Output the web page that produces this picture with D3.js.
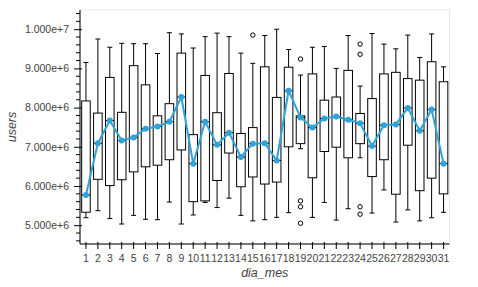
<!DOCTYPE html>
<html><head><meta charset="utf-8">
<script src="https://cdn.jsdelivr.net/npm/d3@7"></script>
<style>body{margin:0;background:#fff}svg{display:block}</style>
</head><body>
<script>
const days = d3.range(1, 32).map(String);
const whiskerLow  = [5.19,5.37,5.17,5.03,5.25,5.15,5.14,5.59,5.03,5.26,5.58,5.45,5.69,5.25,5.11,5.14,5.20,5.32,6.95,5.20,5.58,5.13,5.42,6.72,5.31,5.90,5.08,5.39,5.11,5.19,5.33];
const q1          = [5.33,6.17,6.01,6.16,6.36,6.49,6.53,6.67,6.92,5.60,5.62,6.14,6.84,5.98,6.23,6.05,6.10,7.00,7.08,6.21,6.88,6.99,6.72,7.08,6.24,6.67,5.79,7.04,5.88,6.20,5.80];
const median      = [5.77,7.09,7.67,7.16,7.24,7.46,7.52,7.64,8.27,6.57,7.64,7.05,7.36,6.74,7.08,7.09,6.65,8.43,7.75,7.49,7.72,7.77,7.69,7.60,7.02,7.55,7.57,7.99,7.41,7.95,6.57];
const q3          = [8.17,7.86,8.77,7.88,9.07,8.58,7.79,8.10,9.39,7.31,8.82,7.87,8.87,7.34,7.49,9.04,8.26,9.03,7.79,8.86,8.19,8.27,8.95,7.85,8.23,8.86,8.90,8.74,8.70,9.17,8.66];
const whiskerHigh = [9.15,9.75,9.54,9.64,9.63,9.63,9.38,9.91,9.88,9.52,9.81,9.90,9.81,9.39,9.13,9.84,10.00,9.48,8.83,9.54,9.56,9.00,9.84,8.55,9.89,9.62,9.50,9.85,9.28,9.88,9.04];
const outlierDays   = ["15","19","19","19","19","24","24","24","24"];
const outlierValues = [9.85,9.24,5.62,5.47,5.05,9.62,9.36,5.47,5.28];
const yTicks = [5e6, 6e6, 7e6, 8e6, 9e6, 1e7];
const M = 1e6;

const W = 478, H = 287;
const pL = 80, pR = 449.5, pT = 10, pB = 244;
const svg = d3.select("body").append("svg").attr("width", W).attr("height", H);

const x = d3.scaleBand().domain(days).range([pL, pR]).padding(0);
const y = d3.scaleLinear().domain([4.52e6, 10.49e6]).range([pB, pT]);
const cx = d => x(d) + x.bandwidth() / 2;

// frame outline
svg.append("rect").attr("x", pL).attr("y", pT).attr("width", pR - pL).attr("height", pB - pT)
  .attr("fill", "none").attr("stroke", "#e5e5e5").attr("stroke-width", 1);

const bw = x.bandwidth() * 0.72, cw = x.bandwidth() * 0.42;
const g = svg.append("g");
days.forEach((d, i) => {
  const c = cx(d);
  const s = g.append("g").attr("stroke", "#000").attr("stroke-width", 1).attr("fill", "none");
  s.append("line").attr("x1", c).attr("x2", c).attr("y1", y(whiskerHigh[i]*M)).attr("y2", y(q3[i]*M));
  s.append("line").attr("x1", c).attr("x2", c).attr("y1", y(q1[i]*M)).attr("y2", y(whiskerLow[i]*M));
  s.append("line").attr("x1", c - cw/2).attr("x2", c + cw/2).attr("y1", y(whiskerHigh[i]*M)).attr("y2", y(whiskerHigh[i]*M));
  s.append("line").attr("x1", c - cw/2).attr("x2", c + cw/2).attr("y1", y(whiskerLow[i]*M)).attr("y2", y(whiskerLow[i]*M));
  s.append("rect").attr("x", c - bw/2).attr("width", bw).attr("y", y(q3[i]*M)).attr("height", y(q1[i]*M) - y(q3[i]*M)).attr("fill", "#fff");
  s.append("line").attr("x1", c - bw/2).attr("x2", c + bw/2).attr("y1", y(median[i]*M)).attr("y2", y(median[i]*M));
});
outlierDays.forEach((d, i) => {
  g.append("circle").attr("cx", cx(d)).attr("cy", y(outlierValues[i]*M)).attr("r", 2.2)
    .attr("fill", "#fff").attr("stroke", "#000").attr("stroke-width", 1);
});

// median line
const blue = "#30a2da";
svg.append("path").datum(days).attr("fill", "none").attr("stroke", blue).attr("stroke-width", 2)
  .attr("d", d3.line().x(d => cx(d)).y((d, i) => y(median[i]*M)));
svg.append("g").selectAll("circle").data(days).join("circle")
  .attr("cx", d => cx(d)).attr("cy", (d, i) => y(median[i]*M)).attr("r", 3).attr("fill", blue);

// axes
const font = "'Liberation Sans', Arial, sans-serif";
const xa = svg.append("g").attr("transform", `translate(0,${pB})`)
  .call(d3.axisBottom(x).tickSize(5).tickPadding(6));
xa.select(".domain").attr("d", `M${pL},0H${pR}`);
xa.selectAll(".tick line").attr("y1", -2);
const ya = svg.append("g").attr("transform", `translate(${pL},0)`)
  .call(d3.axisLeft(y).tickValues(yTicks).tickFormat(d3.format(".3e")).tickSize(6).tickPadding(5));
ya.select(".domain").attr("d", `M0,${pT}V${pB}`);
ya.selectAll(".tick line").attr("x2", 2).attr("x1", -6);
// minor ticks
const minors = d3.range(4.6e6, 10.45e6, 0.2e6).filter(v => yTicks.every(t => Math.abs(t - v) > 1e3));
ya.selectAll(".minor").data(minors).join("line").attr("class", "minor")
  .attr("x1", -4).attr("x2", 0).attr("y1", d => y(d)).attr("y2", d => y(d)).attr("stroke", "#000");
[xa, ya].forEach(a => {
  a.selectAll("text").attr("font-family", font).attr("font-size", 10.5).attr("fill", "#444");
  a.selectAll(".domain, .tick line").attr("stroke", "#000");
});

svg.append("text").attr("x", (pL + pR) / 2).attr("y", 277).attr("text-anchor", "middle")
  .attr("font-family", font).attr("font-style", "italic").attr("font-size", 12.5).attr("fill", "#444").text("dia_mes");
svg.append("text").attr("transform", `translate(16,${(pT + pB) / 2}) rotate(-90)`).attr("text-anchor", "middle")
  .attr("font-family", font).attr("font-style", "italic").attr("font-size", 12.5).attr("fill", "#444").text("users");
</script>
</body></html>
